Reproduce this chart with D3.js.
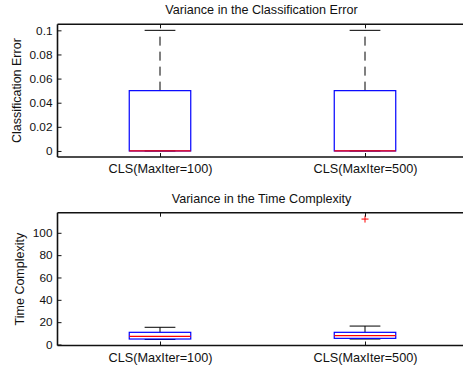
<!DOCTYPE html>
<html><head><meta charset="utf-8">
<script src="https://cdn.jsdelivr.net/npm/d3@7"></script>
<style>body{margin:0;background:#fff}svg{display:block;font-family:"Liberation Sans",Arial,sans-serif}</style>
</head><body><svg id="c" width="463" height="372"></svg>
<script>
const categories = ["CLS(MaxIter=100)", "CLS(MaxIter=500)"];
// Classification error box stats
const errLow = [0, 0];
const errQ1 = [0, 0];
const errMed = [0, 0];
const errQ3 = [0.05, 0.05];
const errHigh = [0.1, 0.1];
const errOut = [[], []];
const errTicks = [0, 0.02, 0.04, 0.06, 0.08, 0.1];
const errTickLabels = ["0", "0.02", "0.04", "0.06", "0.08", "0.1"];
// Time complexity box stats
const timeLow = [4.5, 4.9];
const timeQ1 = [4.9, 5.5];
const timeMed = [7.3, 7.9];
const timeQ3 = [10.9, 10.9];
const timeHigh = [15.4, 16.5];
const timeOut = [[], [112.3]];
const timeTicks = [0, 20, 40, 60, 80, 100];
const timeTickLabels = ["0", "20", "40", "60", "80", "100"];

const svg = d3.select("#c");

function panel(cfg) {
  const x = d3.scaleLinear().domain([0.5, 2.5]).range([57.5, 467.5]);
  const y = d3.scaleLinear().domain(cfg.domain).range([cfg.bottom, cfg.top]);
  const g = svg.append("g");
  const boxW = 0.3, capW = 0.15;
  categories.forEach((c, i) => {
    const cx = x(i + 1);
    g.append("line").attr("x1", cx).attr("x2", cx).attr("y1", y(cfg.q3[i])).attr("y2", y(cfg.high[i]))
      .attr("stroke", "#000").attr("stroke-width", 1).attr("stroke-dasharray", "9,6");
    g.append("line").attr("x1", cx).attr("x2", cx).attr("y1", y(cfg.q1[i])).attr("y2", y(cfg.low[i]))
      .attr("stroke", "#000").attr("stroke-width", 1).attr("stroke-dasharray", "9,6");
    [cfg.high[i], cfg.low[i]].forEach(v => {
      g.append("line").attr("x1", x(i + 1 - capW / 2)).attr("x2", x(i + 1 + capW / 2))
        .attr("y1", y(v)).attr("y2", y(v)).attr("stroke", "#000").attr("stroke-width", 1);
    });
    g.append("rect").attr("x", x(i + 1 - boxW / 2)).attr("width", x(i + 1 + boxW / 2) - x(i + 1 - boxW / 2))
      .attr("y", y(cfg.q3[i])).attr("height", Math.max(0, y(cfg.q1[i]) - y(cfg.q3[i])))
      .attr("fill", "none").attr("stroke", "#0000ff").attr("stroke-width", 1.2);
    g.append("line").attr("x1", x(i + 1 - boxW / 2)).attr("x2", x(i + 1 + boxW / 2))
      .attr("y1", y(cfg.med[i])).attr("y2", y(cfg.med[i])).attr("stroke", "#ff0000").attr("stroke-width", 1.2);
    cfg.out[i].forEach(v => {
      const py = y(v);
      g.append("path").attr("d", `M${cx - 3.5},${py}H${cx + 3.5}M${cx},${py - 3.5}V${py + 3.5}`)
        .attr("stroke", "#ff0000").attr("stroke-width", 1);
    });
  });
  const ax = svg.append("g").attr("stroke", "#111").attr("stroke-width", 1.6);
  ax.append("line").attr("x1", x.range()[0]).attr("x2", 463).attr("y1", cfg.bottom).attr("y2", cfg.bottom);
  ax.append("line").attr("x1", x.range()[0]).attr("x2", 463).attr("y1", cfg.top).attr("y2", cfg.top);
  ax.append("line").attr("x1", x.range()[0]).attr("x2", x.range()[0]).attr("y1", cfg.top).attr("y2", cfg.bottom);
  const yAxis = d3.axisLeft(y).tickValues(cfg.ticks).tickFormat((d, k) => cfg.tickLabels[k]).tickSizeInner(-4).tickSizeOuter(0).tickPadding(5);
  const ya = svg.append("g").attr("transform", `translate(${x.range()[0]},0)`).call(yAxis);
  ya.select(".domain").remove();
  ya.selectAll("line").attr("stroke", "#111").attr("stroke-width", 1);
  ya.selectAll("text").attr("x", -5).attr("font-size", 11.8).attr("fill", "#111").attr("font-family", "Liberation Sans, Arial, sans-serif");
  const xAxis = d3.axisBottom(x).tickValues([1, 2]).tickFormat((d) => categories[d - 1]).tickSizeInner(-4).tickSizeOuter(0).tickPadding(8);
  const xa = svg.append("g").attr("transform", `translate(0,${cfg.bottom})`).call(xAxis);
  xa.select(".domain").remove();
  xa.selectAll("line").attr("stroke", "#111").attr("stroke-width", 1);
  xa.selectAll("text").attr("y", 7).attr("font-size", 12.7).attr("fill", "#111").attr("font-family", "Liberation Sans, Arial, sans-serif");
  const xt = svg.append("g").attr("transform", `translate(0,${cfg.top})`).call(d3.axisTop(x).tickValues([1, 2]).tickFormat("").tickSizeInner(-4).tickSizeOuter(0));
  xt.select(".domain").remove();
  xt.selectAll("line").attr("stroke", "#111").attr("stroke-width", 1);
  svg.append("text").attr("x", (x.range()[0] + x.range()[1]) / 2 - 1).attr("y", cfg.titleY)
    .attr("text-anchor", "middle").attr("font-size", 12.6).attr("fill", "#111").text(cfg.title);
  svg.append("text").attr("transform", `translate(${cfg.labelX},${(cfg.top + cfg.bottom) / 2}) rotate(-90)`)
    .attr("text-anchor", "middle").attr("font-size", 12.5).attr("fill", "#111").text(cfg.ylabel);
}

panel({ domain: [-0.005, 0.105], top: 24.3, bottom: 157, low: errLow, q1: errQ1, med: errMed, q3: errQ3, high: errHigh, out: errOut,
  ticks: errTicks, tickLabels: errTickLabels, title: "Variance in the Classification Error", titleY: 14, ylabel: "Classification Error", labelX: 21 });
panel({ domain: [-0.9, 118], top: 212.7, bottom: 345.5, low: timeLow, q1: timeQ1, med: timeMed, q3: timeQ3, high: timeHigh, out: timeOut,
  ticks: timeTicks, tickLabels: timeTickLabels, title: "Variance in the Time Complexity", titleY: 202.5, ylabel: "Time Complexity", labelX: 24 });
</script></body></html>
